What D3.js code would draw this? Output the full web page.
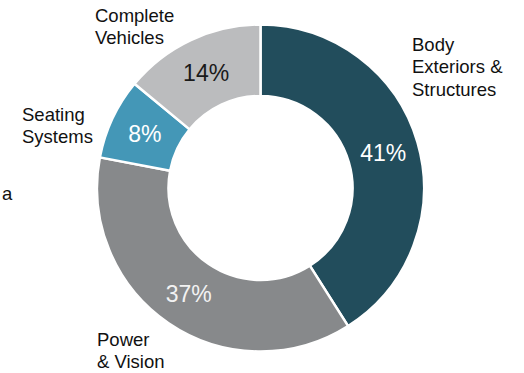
<!DOCTYPE html>
<meta charset="utf-8">
<style>
body { margin: 0; background: #fff; }
svg text { font-family: "Liberation Sans", Arial, sans-serif; }
</style>
<body>
<script src="https://d3js.org/d3.v7.min.js"></script>
<script>
// segments, clockwise from 12 o'clock
var segments = ["Body Exteriors & Structures", "Power & Vision", "Seating Systems", "Complete Vehicles"];
var shares = [41, 37, 8, 14];
var labelLines = [["Body", "Exteriors &", "Structures"], ["Power", "& Vision"], ["Seating", "Systems"], ["Complete", "Vehicles"]];
var colors = ["#224d5c", "#87898b", "#4497b7", "#bbbcbe"];
var pctColors = ["#ffffff", "#f2f2f2", "#ffffff", "#1a1a1a"];

var width = 524, height = 373;
var cx = 260.5, cy = 188, outerR = 163.5, innerR = 92;

var svg = d3.select("body").append("svg")
    .attr("width", width)
    .attr("height", height);

var pie = d3.pie().sort(null).value(function(d) { return d; });
var arc = d3.arc().innerRadius(innerR).outerRadius(outerR);
var arcs = pie(shares);

var g = svg.append("g").attr("transform", "translate(" + cx + "," + cy + ")");

g.selectAll(".slice")
  .data(arcs)
  .enter().append("path")
    .attr("class", "slice")
    .attr("d", arc)
    .attr("fill", function(d, i) { return colors[i]; })
    .attr("stroke", "#fff")
    .attr("stroke-width", 2.5);

g.selectAll(".pct")
  .data(arcs)
  .enter().append("text")
    .attr("class", "pct")
    .attr("transform", function(d) { return "translate(" + arc.centroid(d) + ")"; })
    .attr("text-anchor", "middle")
    .attr("dy", "0.36em")
    .style("font-size", "23px")
    .attr("fill", function(d, i) { return pctColors[i]; })
    .text(function(d) { return d.data + "%"; });

// category labels, placed by hand beside the ring (top-left of each block, first baseline)
var labelPos = [[412, 51], [97, 346], [22, 121], [95, 21.5]];
var lineH = 22.3;
svg.selectAll(".cat")
  .data(labelLines)
  .enter().append("text")
    .attr("class", "cat")
    .attr("x", function(d, i) { return labelPos[i][0]; })
    .attr("y", function(d, i) { return labelPos[i][1]; })
    .style("font-size", "18.5px")
    .attr("fill", "#111")
  .selectAll("tspan")
    .data(function(d) { return d; })
    .enter().append("tspan")
    .attr("x", function() { return this.parentNode.getAttribute("x"); })
    .attr("dy", function(d, j) { return j === 0 ? 0 : lineH; })
    .text(function(d) { return d; });

// stray clipped label at the left edge
svg.append("text")
    .attr("x", 2)
    .attr("y", 200)
    .style("font-size", "18.5px")
    .attr("fill", "#111")
    .text("a");
</script>
</body>
